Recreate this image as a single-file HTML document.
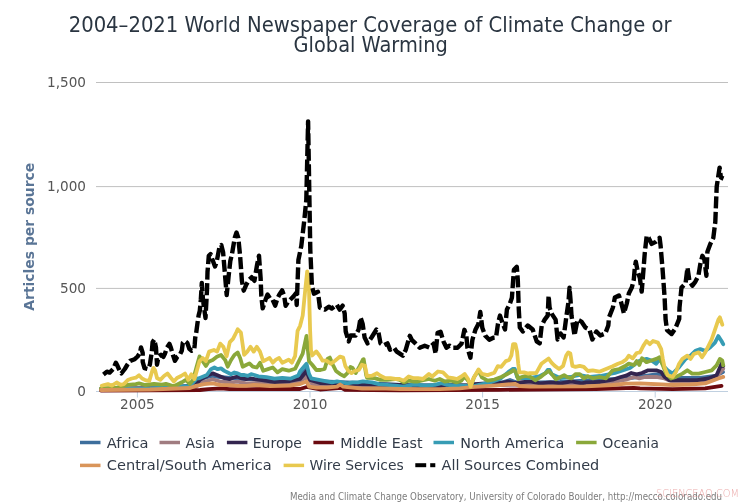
<!DOCTYPE html>
<html><head><meta charset="utf-8"><style>
html,body{margin:0;padding:0;background:#fff;}
body{width:754px;height:503px;overflow:hidden;position:relative;}
svg{position:absolute;left:0;top:0;}
text{font-family:"DejaVu Sans", "Liberation Sans", sans-serif;}
</style></head><body>
<svg width="754" height="503" viewBox="0 0 754 503">
<rect width="754" height="503" fill="#fff"/>
<g fill="#2a3541" font-size="20.6" text-anchor="middle">
<text x="370.2" y="31.9" textLength="603" lengthAdjust="spacingAndGlyphs">2004–2021 World Newspaper Coverage of Climate Change or</text>
<text x="370.7" y="51.9" textLength="154.2" lengthAdjust="spacingAndGlyphs">Global Warming</text>
</g>
<line x1="96" y1="288.4" x2="728" y2="288.4" stroke="#c0c0c0" stroke-width="1"/><line x1="96" y1="186.6" x2="728" y2="186.6" stroke="#c0c0c0" stroke-width="1"/><line x1="96" y1="82.5" x2="728" y2="82.5" stroke="#c0c0c0" stroke-width="1"/>
<line x1="96" y1="391.5" x2="728" y2="391.5" stroke="#c0d0e0" stroke-width="1"/>
<line x1="137.4" y1="391" x2="137.4" y2="397.5" stroke="#c0d0e0" stroke-width="1"/><line x1="310.0" y1="391" x2="310.0" y2="397.5" stroke="#c0d0e0" stroke-width="1"/><line x1="482.6" y1="391" x2="482.6" y2="397.5" stroke="#c0d0e0" stroke-width="1"/><line x1="655.2" y1="391" x2="655.2" y2="397.5" stroke="#c0d0e0" stroke-width="1"/>
<g fill="#555" font-size="13.6"><text x="86" y="395.6" text-anchor="end">0</text><text x="86" y="293.0" text-anchor="end">500</text><text x="86" y="191.2" text-anchor="end">1,000</text><text x="86" y="87.1" text-anchor="end">1,500</text><text x="137.4" y="408.7" text-anchor="middle">2005</text><text x="310.0" y="408.7" text-anchor="middle">2010</text><text x="482.6" y="408.7" text-anchor="middle">2015</text><text x="655.2" y="408.7" text-anchor="middle">2020</text></g>
<text transform="translate(33.5,236.7) rotate(-90)" text-anchor="middle" font-size="14" font-weight="bold" fill="#5a7596" textLength="148" lengthAdjust="spacingAndGlyphs">Articles per source</text>
<g><polyline points="101.0,389.5 190.0,387.0 196.0,381.7 200.2,379.2 206.0,377.5 212.0,376.0 220.0,377.0 230.0,378.0 240.0,378.5 250.0,379.0 260.0,380.0 280.0,381.0 295.0,379.0 302.0,374.0 306.5,369.0 310.0,379.0 322.8,381.5 360.0,383.0 400.0,385.0 460.0,385.5 500.0,383.0 510.0,380.0 518.0,383.0 560.0,382.0 600.0,380.0 630.0,378.0 645.0,376.0 660.0,374.0 667.0,379.0 680.0,378.0 700.0,378.0 715.0,376.0 723.0,372.0" fill="none" stroke="#3d6e9c" stroke-width="3.8" stroke-linejoin="round" stroke-linecap="round"/><polyline points="101.0,389.5 196.0,386.5 204.3,381.7 212.7,379.2 221.0,381.7 229.4,382.6 237.7,381.7 246.1,383.4 260.0,383.0 280.0,384.0 300.0,382.0 306.5,376.4 312.0,384.0 330.0,385.0 400.0,386.0 500.0,385.0 560.0,384.5 600.0,384.0 612.7,382.3 619.3,381.0 626.0,379.7 634.0,377.0 639.3,378.3 645.0,377.0 656.3,376.9 664.5,378.5 672.6,381.7 688.9,381.7 705.2,380.1 716.6,376.9 723.2,368.7" fill="none" stroke="#a07c80" stroke-width="3.8" stroke-linejoin="round" stroke-linecap="round"/><polyline points="101.0,389.0 160.0,388.5 169.9,387.0 181.8,386.3 193.8,385.5 196.1,383.9 200.0,380.0 204.0,377.5 208.5,375.0 212.7,373.4 216.9,375.0 221.0,376.7 225.2,378.4 229.4,379.2 233.6,377.5 237.7,376.7 241.9,378.4 246.1,379.2 250.3,378.4 254.4,379.2 262.0,380.0 275.0,382.0 290.0,381.0 300.0,379.0 306.5,371.3 310.0,380.0 320.0,383.0 360.0,384.0 400.0,385.0 418.0,385.9 440.0,386.0 451.4,385.1 470.0,386.0 474.8,384.2 496.7,382.6 503.5,382.6 508.0,381.5 515.0,383.0 530.0,381.4 540.3,383.4 550.7,382.4 561.0,383.4 571.4,381.4 581.7,383.4 586.0,382.3 600.0,382.0 612.7,379.7 620.7,377.0 626.0,375.7 631.3,373.0 636.7,374.3 642.0,373.0 648.2,370.3 656.3,370.3 661.2,372.0 664.5,376.9 669.3,380.1 680.8,380.1 697.1,380.1 708.5,378.5 716.6,375.2 721.5,363.8 723.2,366.0" fill="none" stroke="#33254f" stroke-width="3.8" stroke-linejoin="round" stroke-linecap="round"/><polyline points="101.0,390.5 200.0,390.0 208.5,389.2 221.0,388.4 229.4,389.2 260.0,389.0 300.0,389.0 306.7,387.0 320.0,389.5 341.2,387.9 345.0,389.8 400.0,390.3 500.0,389.8 596.0,389.0 633.8,387.9 640.0,388.3 672.6,389.1 705.2,388.3 721.5,385.8" fill="none" stroke="#6b0a0f" stroke-width="3.8" stroke-linejoin="round" stroke-linecap="round"/><polyline points="101.0,389.0 150.0,388.5 190.0,386.0 196.4,378.7 198.5,378.4 202.7,376.7 206.9,375.0 211.0,369.2 214.4,367.5 217.7,369.2 221.0,368.4 224.4,370.9 227.7,372.5 231.1,374.2 234.4,372.5 237.7,373.4 241.1,375.0 244.4,375.0 247.8,375.9 251.1,374.2 254.4,375.0 258.4,376.3 266.4,377.1 274.4,378.7 282.3,377.9 290.3,378.7 298.2,375.5 300.1,371.3 306.5,363.7 309.0,373.9 311.2,378.3 316.3,379.3 321.5,380.3 326.7,381.4 331.9,382.4 337.0,381.4 342.2,382.4 347.4,383.4 352.6,382.4 357.7,382.4 362.9,381.4 367.0,381.9 372.0,382.4 378.7,384.1 387.0,384.9 395.4,385.7 403.7,386.6 412.1,384.9 418.0,384.9 426.3,385.7 434.7,384.9 441.4,383.2 447.2,384.9 455.6,385.7 463.9,385.7 472.3,386.6 480.0,384.5 490.0,382.5 500.0,379.0 508.0,372.4 512.6,369.0 514.8,369.0 517.1,377.0 521.6,378.1 530.0,378.0 540.0,376.0 545.5,373.1 547.6,370.0 549.7,370.0 551.7,374.1 560.0,378.0 570.0,377.0 580.0,375.0 590.0,377.0 600.0,376.0 615.0,373.0 630.0,368.0 640.0,360.5 646.5,358.9 651.4,360.5 656.3,363.8 659.6,358.9 664.5,367.1 667.7,370.3 672.6,373.6 679.1,367.1 685.7,358.9 690.5,355.7 695.4,350.8 700.3,349.1 705.2,350.8 710.1,347.5 715.0,342.6 718.3,336.1 721.5,341.0 723.2,344.2" fill="none" stroke="#379cb4" stroke-width="3.8" stroke-linejoin="round" stroke-linecap="round"/><polyline points="101.0,388.5 115.0,388.0 127.8,384.9 135.8,384.1 139.0,383.3 145.0,385.0 154.0,383.9 161.9,384.7 165.9,383.9 173.9,386.3 181.8,382.3 185.8,379.9 189.8,383.9 193.0,380.0 196.4,367.5 199.5,356.4 202.7,361.2 205.9,365.9 208.5,361.7 212.7,360.0 216.9,356.7 221.0,355.0 225.2,360.0 227.7,366.7 231.1,360.0 234.4,355.0 237.7,352.5 240.2,358.3 242.7,366.7 246.1,365.0 249.4,363.4 252.8,366.7 256.8,367.5 260.0,362.7 263.2,370.7 268.0,369.1 272.8,367.5 277.5,372.3 282.3,369.1 288.7,370.7 295.1,368.8 302.7,353.6 306.5,335.9 309.0,361.2 312.2,364.8 316.3,370.0 320.5,370.0 324.6,369.0 327.7,358.6 329.8,357.6 332.9,364.8 336.0,371.0 340.1,374.1 344.3,376.2 347.4,373.1 350.5,366.9 352.6,367.9 355.7,373.1 359.8,365.9 362.9,359.7 363.7,359.2 366.2,375.1 367.0,377.8 374.5,378.2 380.4,379.9 387.0,379.9 395.4,379.0 399.6,379.9 403.7,382.4 408.7,380.7 413.8,381.5 418.0,381.5 428.9,379.0 434.7,380.7 439.7,379.0 444.7,381.5 451.4,380.7 456.4,382.4 461.4,380.7 464.7,376.5 468.1,380.7 471.4,384.9 474.0,377.3 478.5,370.5 481.9,377.3 487.6,380.7 494.4,379.5 501.2,377.0 505.8,374.7 510.3,372.4 513.7,370.2 516.0,372.4 518.2,379.2 521.6,377.0 526.2,375.8 530.7,377.0 535.2,380.3 540.3,377.2 545.5,373.1 548.6,371.0 551.7,374.1 555.9,379.3 560.0,377.2 564.1,375.2 567.2,377.2 571.4,378.3 575.5,374.1 579.7,374.1 583.8,378.3 587.9,376.2 592.7,378.3 599.3,377.0 606.0,378.3 612.7,370.3 619.3,369.0 624.7,366.3 628.7,363.7 634.0,365.0 636.7,361.0 639.3,365.0 642.0,358.3 646.5,362.2 651.4,360.5 656.3,358.9 659.6,357.3 662.8,365.4 666.1,373.6 671.0,378.5 675.9,376.9 682.4,373.6 687.3,370.3 692.2,373.6 698.7,373.6 705.2,372.0 711.7,370.3 716.6,365.4 719.9,358.9 722.3,360.5 723.2,365.4" fill="none" stroke="#8aa83a" stroke-width="3.8" stroke-linejoin="round" stroke-linecap="round"/><polyline points="101.0,390.0 150.0,389.5 190.0,388.0 196.0,385.9 204.3,384.2 212.7,383.4 221.0,385.1 229.4,385.1 237.7,385.9 246.1,385.9 254.0,385.0 270.0,386.0 290.0,385.5 300.1,384.0 306.5,381.5 309.1,386.6 316.3,387.6 326.7,387.6 337.0,386.6 340.1,384.5 343.2,386.6 352.6,387.6 362.0,388.7 378.7,388.4 400.0,389.0 418.0,389.2 440.0,389.2 459.7,388.4 474.0,386.8 496.7,385.3 514.8,383.8 519.4,386.0 530.0,386.6 586.0,386.3 612.7,385.0 626.0,383.7 640.0,383.4 672.6,385.0 690.0,384.5 705.2,383.4 718.3,378.5 723.2,376.9" fill="none" stroke="#d9955a" stroke-width="3.8" stroke-linejoin="round" stroke-linecap="round"/><polyline points="101.8,385.7 104.0,385.0 107.9,384.1 111.9,385.7 116.7,382.5 120.7,384.9 123.8,384.1 127.8,380.1 131.8,378.5 135.8,377.7 139.0,375.3 142.1,378.5 145.3,380.1 149.3,380.9 152.5,370.0 153.6,368.0 155.0,370.0 157.0,378.0 160.3,379.9 164.0,376.0 167.5,373.5 171.0,378.0 173.9,381.5 177.0,378.0 181.0,376.0 185.0,373.5 188.2,379.9 191.4,374.3 194.5,379.1 197.0,370.0 199.5,361.2 202.7,358.0 205.9,361.2 209.1,351.6 213.9,350.0 217.1,351.6 220.2,343.6 223.4,346.8 226.6,356.4 229.8,342.1 233.0,338.9 236.2,332.5 237.7,329.3 240.9,332.5 242.5,343.6 244.1,354.8 247.3,351.6 250.5,346.8 253.7,351.6 256.8,346.8 260.0,351.6 263.2,361.2 266.4,359.6 269.6,358.0 272.8,362.7 275.9,359.6 279.1,358.0 282.3,362.7 285.5,361.2 288.7,359.6 291.9,362.7 295.1,356.1 297.6,330.8 300.1,325.8 302.7,315.6 305.2,290.3 307.2,271.3 309.0,290.3 310.1,330.0 311.0,350.3 312.2,355.5 316.3,351.4 319.4,355.5 322.6,360.7 326.7,360.7 330.8,363.8 335.0,360.7 340.1,356.6 343.2,357.6 345.3,365.9 348.4,371.0 351.5,373.1 354.6,371.0 358.8,370.0 361.9,364.8 365.0,365.9 367.0,376.1 372.0,375.7 377.0,373.2 380.4,375.7 385.4,378.2 390.4,378.2 395.4,379.0 399.6,379.0 403.7,380.7 408.7,376.5 413.8,378.2 418.0,378.2 423.0,379.0 428.9,374.0 432.2,376.5 438.0,371.5 443.0,372.4 448.0,377.4 453.1,378.2 457.2,379.0 461.4,376.5 464.7,374.0 468.1,379.0 470.6,386.6 473.1,379.0 478.5,369.4 481.9,373.9 487.6,375.1 494.4,372.7 497.8,366.2 501.2,366.8 505.8,361.1 509.2,360.0 511.4,355.4 513.1,344.1 515.4,344.1 517.1,352.0 518.2,363.4 519.4,372.4 523.9,372.4 528.4,373.6 530.0,373.1 536.2,373.1 541.4,363.8 545.5,360.7 548.6,358.6 551.7,362.8 554.8,365.9 559.0,369.0 563.1,365.9 566.2,355.5 568.3,352.4 570.3,353.4 572.4,365.9 575.5,366.9 579.7,365.9 583.8,366.9 587.9,371.0 592.7,370.3 599.3,371.7 606.0,369.0 612.7,366.3 618.0,363.7 622.0,362.3 626.0,359.7 628.7,355.7 632.7,358.3 636.7,353.0 640.0,352.4 643.3,345.9 646.5,341.0 649.8,344.2 653.0,341.0 657.9,342.6 661.2,349.1 662.8,358.9 664.5,367.1 667.7,375.2 672.6,376.9 675.9,372.0 679.1,363.8 682.4,358.9 687.3,355.7 690.5,358.9 693.8,354.0 698.7,352.4 702.0,357.3 705.2,352.4 708.5,345.9 711.7,339.3 715.0,329.6 718.3,319.8 719.9,317.3 722.3,324.7" fill="none" stroke="#e8c94f" stroke-width="3.8" stroke-linejoin="round" stroke-linecap="round"/><polyline points="103.4,374.4 106.9,371.7 109.6,372.6 113.2,369.0 115.9,362.7 117.7,366.3 120.4,372.6 121.3,373.5 124.8,369.0 127.5,364.5 130.2,360.9 134.7,359.2 137.6,356.5 140.0,352.9 141.0,347.5 142.7,352.9 142.7,361.8 144.5,368.1 148.1,369.0 149.9,364.5 150.8,358.3 151.7,352.9 152.6,342.2 154.3,339.5 156.0,347.8 157.0,364.7 158.5,356.8 161.0,354.8 163.4,356.8 164.9,353.8 166.9,347.8 169.4,343.9 170.9,347.8 172.9,354.8 174.9,360.8 177.3,356.8 179.8,354.8 181.8,350.8 182.8,342.9 184.8,340.9 187.3,342.9 189.3,348.8 191.7,350.8 194.2,349.8 194.7,344.9 195.2,337.9 196.2,332.9 197.4,323.8 198.6,315.5 199.8,310.7 200.8,300.0 201.8,283.0 203.0,300.0 205.5,318.0 207.0,290.0 207.5,272.0 208.8,255.8 210.6,254.0 212.4,259.4 215.0,266.5 216.8,261.1 219.5,246.8 221.3,245.0 223.1,252.2 224.9,273.7 226.7,295.1 228.5,277.2 230.3,261.1 232.0,254.0 234.7,237.9 236.5,232.5 238.3,237.9 240.1,255.8 241.9,280.8 243.7,290.7 246.4,284.4 249.0,279.9 251.7,277.2 254.4,280.8 257.1,264.7 259.0,255.7 260.6,277.8 261.3,295.9 262.7,308.4 265.4,300.1 267.5,294.5 270.3,298.7 272.4,299.4 275.2,305.7 277.3,298.7 279.4,294.5 282.1,290.4 284.2,295.9 285.6,305.7 288.4,301.5 291.2,298.7 294.0,295.9 296.1,293.1 296.7,305.0 298.4,260.0 301.3,246.0 304.3,220.0 306.3,200.0 308.1,121.4 309.6,210.0 310.3,250.0 311.9,285.8 313.9,293.7 317.9,291.7 319.9,307.7 324.8,309.6 328.8,306.7 331.8,308.6 336.8,304.7 339.7,309.6 342.7,305.7 344.7,313.6 345.7,331.5 348.7,341.4 350.7,335.5 355.6,335.5 358.6,329.5 360.6,317.6 362.6,323.6 364.6,337.5 367.6,343.4 371.5,337.5 376.5,329.5 378.5,332.5 380.5,343.4 383.5,345.4 387.5,343.4 390.0,349.7 394.0,347.7 396.8,351.7 399.8,353.7 402.8,355.7 405.8,349.7 409.8,335.8 411.7,339.8 415.7,343.7 419.7,347.7 424.7,345.7 429.6,347.7 433.6,343.7 435.6,353.7 437.6,332.8 440.6,331.8 443.6,341.7 446.5,347.7 449.5,345.7 452.5,347.7 457.5,347.7 461.5,343.7 464.4,329.8 466.4,335.8 467.4,347.7 470.4,357.7 472.4,339.8 475.4,329.8 478.4,323.9 480.3,311.9 482.3,327.8 485.3,335.8 489.3,339.8 493.3,337.8 496.0,337.5 498.0,323.6 500.0,315.6 502.0,321.6 505.0,329.5 506.9,309.6 509.9,303.7 511.9,297.7 513.9,269.9 516.8,266.9 517.8,279.8 518.8,309.6 519.8,327.5 522.8,331.5 527.8,325.5 532.7,329.5 536.7,341.4 539.7,343.4 541.7,325.5 544.7,319.6 547.7,315.6 548.6,295.7 549.6,307.7 551.6,313.6 555.6,319.6 557.6,339.5 560.6,333.5 563.6,337.5 566.5,315.6 568.5,301.7 569.5,287.8 570.5,299.7 571.5,315.6 574.5,335.5 577.5,319.6 581.4,321.6 585.4,327.5 589.4,329.5 592.4,339.5 596.4,331.5 600.3,335.5 605.3,333.5 608.3,325.5 609.0,317.4 612.9,307.5 614.9,297.5 618.9,295.5 620.9,301.5 623.9,313.4 626.8,303.5 628.8,293.6 631.8,287.6 633.8,279.6 634.8,267.7 635.8,261.7 637.8,271.7 639.8,277.7 641.7,291.6 642.7,279.6 644.7,253.8 646.7,235.9 648.7,237.9 651.7,243.9 655.7,241.9 659.6,237.9 660.6,245.8 662.6,269.7 664.6,297.5 665.6,319.4 667.0,330.0 671.6,334.0 675.4,328.4 679.2,318.9 679.5,307.5 681.5,287.6 685.5,283.6 687.5,267.7 689.5,281.6 692.4,285.6 695.4,281.6 698.4,275.7 700.4,263.7 702.4,255.8 704.4,259.8 706.4,275.7 707.4,251.8 710.3,243.9 713.3,237.9 714.3,229.9 715.3,222.0 716.7,186.6 719.6,167.6 720.9,177.5 723.5,178.6" fill="none" stroke="#000" stroke-width="4.4" stroke-dasharray="12,3.5" stroke-linejoin="round"/></g>
<g fill="#323b48" font-size="14.4"><line x1="80" y1="442.5" x2="100.5" y2="442.5" stroke="#3d6e9c" stroke-width="3.5"/><text x="106.8" y="447.5" textLength="41.8" lengthAdjust="spacingAndGlyphs">Africa</text><line x1="159.5" y1="442.5" x2="180.0" y2="442.5" stroke="#a07c80" stroke-width="3.5"/><text x="185.4" y="447.5" textLength="29.5" lengthAdjust="spacingAndGlyphs">Asia</text><line x1="226.9" y1="442.5" x2="247.4" y2="442.5" stroke="#33254f" stroke-width="3.5"/><text x="252.8" y="447.5" textLength="49.1" lengthAdjust="spacingAndGlyphs">Europe</text><line x1="313.4" y1="442.5" x2="333.9" y2="442.5" stroke="#6b0a0f" stroke-width="3.5"/><text x="340.3" y="447.5" textLength="82.3" lengthAdjust="spacingAndGlyphs">Middle East</text><line x1="433.5" y1="442.5" x2="454.0" y2="442.5" stroke="#379cb4" stroke-width="3.5"/><text x="460.3" y="447.5" textLength="103.9" lengthAdjust="spacingAndGlyphs">North America</text><line x1="576.1" y1="442.5" x2="596.6" y2="442.5" stroke="#8aa83a" stroke-width="3.5"/><text x="602.6" y="447.5" textLength="56.3" lengthAdjust="spacingAndGlyphs">Oceania</text><line x1="80" y1="465.4" x2="100.5" y2="465.4" stroke="#d9955a" stroke-width="3.5"/><text x="106.8" y="470.4" textLength="164.9" lengthAdjust="spacingAndGlyphs">Central/South America</text><line x1="283.6" y1="465.4" x2="304.1" y2="465.4" stroke="#e8c94f" stroke-width="3.5"/><text x="309.5" y="470.4" textLength="94.2" lengthAdjust="spacingAndGlyphs">Wire Services</text><line x1="415.3" y1="465.2" x2="426.2" y2="465.2" stroke="#000" stroke-width="4"/><line x1="430.2" y1="465.2" x2="435.3" y2="465.2" stroke="#000" stroke-width="4"/><text x="441.5" y="470.2" textLength="157.7" lengthAdjust="spacingAndGlyphs">All Sources Combined</text></g>
<text x="290" y="500.2" font-size="10" fill="#7c7c7c" textLength="432" lengthAdjust="spacingAndGlyphs">Media and Climate Change Observatory, University of Colorado Boulder, http://mecco.colorado.edu</text>
<text x="656" y="497.4" font-size="10.5" font-weight="200" fill="#e89a9a" fill-opacity="0.85" textLength="83" lengthAdjust="spacingAndGlyphs">SCIENCEAQ.COM</text>
</svg>
</body></html>
